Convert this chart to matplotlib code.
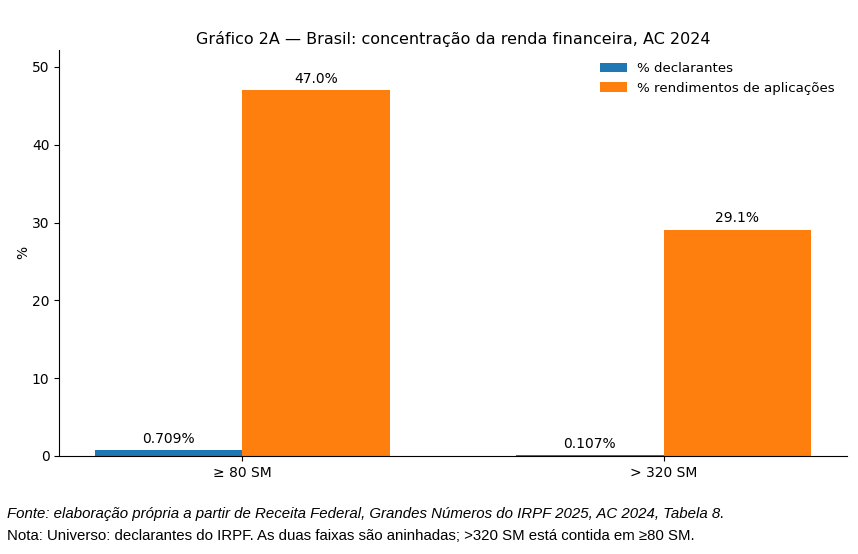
import matplotlib.pyplot as plt
import numpy as np

categories = ['≥ 80 SM', '> 320 SM']
declarantes = [0.709, 0.107]
rendimentos = [47.0, 29.1]
labels_decl = ['0.709%', '0.107%']
labels_rend = ['47.0%', '29.1%']

fig = plt.figure(figsize=(8.58, 5.54), dpi=100)
ax = fig.add_axes([0.069, 0.177, 0.918, 0.733])

x = np.arange(len(categories))
w = 0.35
b1 = ax.bar(x - w / 2, declarantes, w, color='#1f77b4', label='% declarantes')
b2 = ax.bar(x + w / 2, rendimentos, w, color='#ff7f0e', label='% rendimentos de aplicações')

ax.bar_label(b1, labels=labels_decl, padding=3, fontsize=10)
ax.bar_label(b2, labels=labels_rend, padding=3, fontsize=10)

ax.set_xticks(x)
ax.set_xticklabels(categories, fontsize=10)
ax.tick_params(axis='y', labelsize=10)
ax.set_ylim(0, 52.2)
ax.set_yticks([0, 10, 20, 30, 40, 50])
ax.set_ylabel('%', fontsize=10, labelpad=1)
ax.set_title('Gráfico 2A — Brasil: concentração da renda financeira, AC 2024', fontsize=11.5, pad=4)
ax.spines['top'].set_visible(False)
ax.spines['right'].set_visible(False)
ax.legend(frameon=False, loc='upper right', fontsize=9.6)

fig.text(0.008, 0.065, 'Fonte: elaboração própria a partir de Receita Federal, Grandes Números do IRPF 2025, AC 2024, Tabela 8.',
         fontsize=10.8, family='Liberation Sans', style='italic')
fig.text(0.008, 0.026, 'Nota: Universo: declarantes do IRPF. As duas faixas são aninhadas; >320 SM está contida em ≥80 SM.',
         fontsize=10.8, family='Liberation Sans')

fig.savefig('out.png', dpi=100)
